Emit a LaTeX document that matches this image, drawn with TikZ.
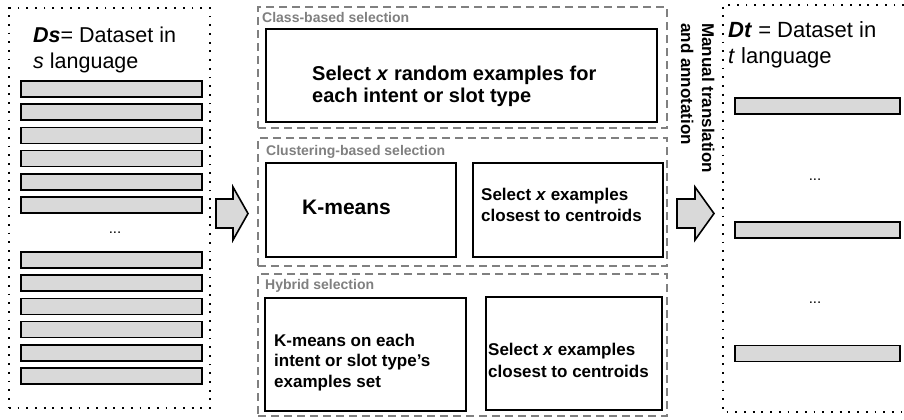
\documentclass[tikz,border=0pt]{standalone}
\usepackage{fontspec}
\setmainfont{Liberation Sans}
\usetikzlibrary{positioning}
\definecolor{Ink}{HTML}{000000}
\definecolor{BarGray}{HTML}{D9D9D9}
\definecolor{FrameGray}{HTML}{808080}
\newcommand{\setsize}[2]{\fontsize{#1bp}{#2bp}\selectfont}
\newcommand{\blockarrow}[3]{
  \draw[arrowbody] (#1,199) -- (#2,199) -- (#2,187) -- (#3,213.5)
    -- (#2,240) -- (#2,228) -- (#1,228) -- cycle;
}
\tikzset{
  dataframe/.style={draw=Ink,line width=1.8bp,dash pattern=on 1.8bp off 6.9bp},
  selframe/.style={draw=FrameGray,line width=2bp,dash pattern=on 8bp off 5bp,
    inner sep=0bp},
  methodbox/.style={draw=Ink,line width=1.6bp,fill=white,inner sep=0bp},
  rowbar/.style={draw=Ink,fill=BarGray,line width=1.6bp,minimum width=181bp,
    minimum height=16bp,inner sep=0bp},
  arrowbody/.style={draw=Ink,fill=BarGray,line width=1.6bp,line join=miter},
  seltitle/.style={text=FrameGray,font=\setsize{14}{14}\bfseries,inner sep=0bp,
    anchor=base west},
  boxtext/.style={font=\setsize{17}{21}\bfseries,align=left,inner sep=0bp,
    anchor=base west},
  dstitle/.style={font=\setsize{21.5}{26},align=left,inner sep=0bp,
    anchor=base west},
  gap/.style={font=\setsize{15}{15},inner sep=0bp}
}

\begin{document}
\begin{tikzpicture}[x=1bp,y=-1bp]
  \path[use as bounding box] (0,0) rectangle (904,419);
  \fill[white] (0,0) rectangle (904,419);

  % source dataset (multi-line texts sit on their last baseline)
  \node[dataframe,minimum width=201bp,minimum height=400bp,inner sep=0bp]
    (dsframe) at (109.5,208) {};
  \node[dstitle] (dstext) at (33,68)
    {\textbf{\textit{Ds}}= Dataset in\\\textit{s} language};
  \foreach \i in {0,...,5} {
    \node[rowbar] (srowa\i) at (111.5,{89+23.2*\i}) {};
    \node[rowbar] (srowb\i) at (111.5,{260+23.2*\i}) {};
  }
  \node[gap] (sgap) at (115,233) {...};

  \blockarrow{216}{233}{248}

  % selection strategies
  \node[selframe,minimum width=409bp,minimum height=121bp] (classframe)
    at (462.5,67.5) {};
  \node[seltitle] at (262,22) {Class-based selection};
  \node[methodbox,minimum width=391bp,minimum height=93bp] (classbox)
    at (461.5,75.5) {};
  \node[boxtext,font=\setsize{20}{22}\bfseries] (classtext) at (312,102)
    {Select \textit{x} random examples for\\each intent or slot type};

  \node[selframe,minimum width=409bp,minimum height=128bp] (clusterframe)
    at (462.5,202) {};
  \node[seltitle] at (266,155) {Clustering-based selection};
  \node[methodbox,minimum width=190bp,minimum height=94bp] (kmbox)
    at (361,210) {};
  \node[methodbox,minimum width=190bp,minimum height=94bp] (clselbox)
    at (568,210) {};
  \node[boxtext,font=\setsize{21}{21}\bfseries] (kmtext) at (302,214) {K-means};
  \node[boxtext] (clseltext) at (481,221)
    {Select \textit{x} examples\\closest to centroids};

  \node[selframe,minimum width=409bp,minimum height=142bp] (hybridframe)
    at (462.5,345) {};
  \node[seltitle] at (265,289) {Hybrid selection};
  \node[methodbox,minimum width=201bp,minimum height=113bp] (hkmbox)
    at (365.5,354.5) {};
  \node[methodbox,minimum width=176bp,minimum height=113bp] (hselbox)
    at (574,353.5) {};
  \node[boxtext,font=\setsize{17}{20.5}\bfseries] (hkmtext) at (274,387)
    {K-means on each\\intent or slot type’s\\examples set};
  \node[boxtext,font=\setsize{17}{22}\bfseries] (hseltext) at (488,377)
    {Select \textit{x} examples\\closest to centroids};

  % translation step
  \node[boxtext,rotate=-90] (manual) at (681,23)
    {Manual translation\\and annotation};
  \blockarrow{677}{695}{714}

  % target dataset
  \draw[dataframe] (904,5) -- (723,5) -- (723,412) -- (904,412);
  \node[dstitle,font=\setsize{22}{26}] (dttext) at (728,63)
    {\textbf{\textit{Dt}} = Dataset in\\\textit{t} language};
  \node[rowbar,minimum width=165bp] (trow1) at (817.5,106) {};
  \node[rowbar,minimum width=165bp] (trow2) at (817.5,230) {};
  \node[rowbar,minimum width=165bp] (trow3) at (817.5,353.5) {};
  \node[gap] (tgapa) at (815,180) {...};
  \node[gap] (tgapb) at (815,303) {...};
\end{tikzpicture}
\end{document}
